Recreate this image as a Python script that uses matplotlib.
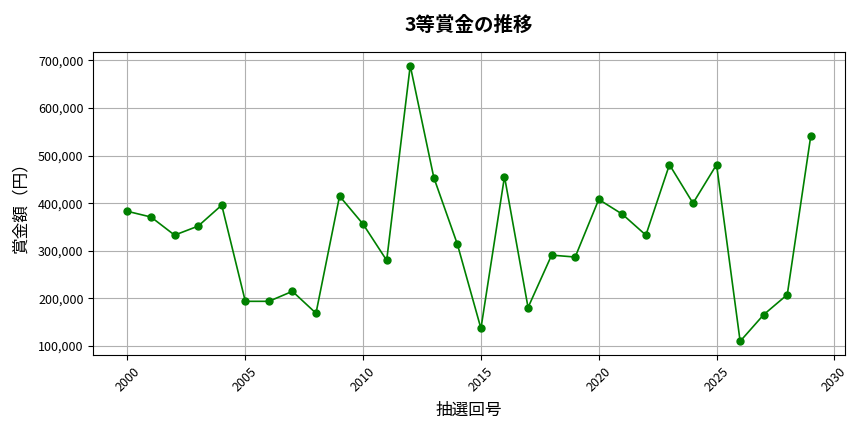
import matplotlib
matplotlib.use("Agg")
import matplotlib.pyplot as plt
from matplotlib.ticker import FuncFormatter

plt.rcParams['font.family'] = ['Noto Sans CJK JP', 'DejaVu Sans']

draws = list(range(2000, 2030))
prizes = [383000, 371000, 333000, 352000, 396000,
          194000, 194000, 215000, 169000, 415000,
          356000, 280000, 689000, 454000, 314000,
          137000, 456000, 181000, 291000, 287000,
          408000, 377000, 333000, 481000, 400000,
          481000, 110000, 166000, 208000, 542000]

title = "3等賞金の推移"
xlabel = "抽選回号"
ylabel = "賞金額（円）"

fig, ax = plt.subplots(figsize=(8.64, 4.32), dpi=100)
ax.plot(draws, prizes, marker='o', color='green', linewidth=1.2, markersize=5)
ax.set_title(title, fontsize=14, fontweight='bold', pad=15)
ax.set_xlabel(xlabel, fontsize=12, labelpad=6)
ax.set_ylabel(ylabel, fontsize=12, labelpad=6)
ax.yaxis.set_major_formatter(FuncFormatter(lambda v, p: f"{int(v):,}"))
ax.tick_params(labelsize=9)
ax.grid(True)
plt.setp(ax.get_xticklabels(), rotation=45)
fig.subplots_adjust(left=0.108, right=0.978, top=0.88, bottom=0.178)
fig.savefig("out.png")
